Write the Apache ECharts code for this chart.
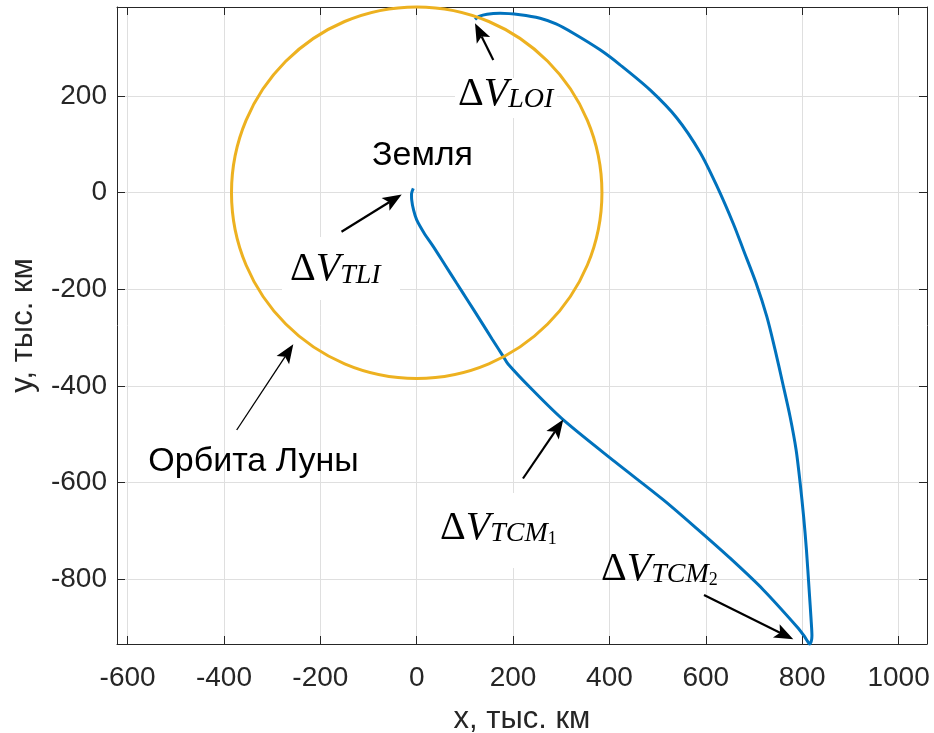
<!DOCTYPE html>
<html><head><meta charset="utf-8">
<script src="https://cdn.jsdelivr.net/npm/echarts@6/dist/echarts.min.js"></script>
<style>html,body{margin:0;padding:0;background:#fff}#c{width:934px;height:733px}</style>
</head><body><div id="c"></div>
<script>
// ---- data (thousand km) ----
const xTicks = [-600, -400, -200, 0, 200, 400, 600, 800, 1000];
const yTicks = [-800, -600, -400, -200, 0, 200];
const xRange = [-622, 1059];
const yRange = [-934, 384.2];
// transfer trajectory, from Earth (TLI) to lunar orbit insertion (LOI)
const trajX = [-7.1, -10.8, -10.4, -6.6, 0.0, 15.2, 34.5, 58.8, 83.0, 106.5, 131.4, 156.3, 179.8, 189.5,
  240.0, 304.3, 411.7, 511.9, 581.9, 650.4, 719.5, 789.5, 804.0, 811.3, 815.4, 818.5, 820.2, 818.5, 814.4,
  808.8, 803.0, 795.7, 787.4, 775.0, 759.4, 743.8, 726.6, 704.4, 678.0, 657.3, 622.8, 587.6, 539.8, 484.2,
  422.0, 380.5, 325.1, 289.2, 256.0, 214.5, 173.0, 145.9, 129.3, 121.0];
const trajY = [9.1, -2.7, -15.1, -35.8, -56.5, -83.4, -111.7, -149.6, -187.5, -224.1, -263.2, -302.7, -339.3, -354.6,
  -408.0, -470.3, -557.2, -635.8, -695.8, -756.5, -822.1, -898.6, -917.3, -928.6, -933.8, -929.7, -917.2, -884.2, -822.1,
  -739.3, -671.0, -600.7, -532.4, -464.1, -393.8, -325.5, -256.6, -187.5, -118.6, -64.8, 13.9, 84.2, 154.6, 212.6,
  264.5, 295.5, 329.8, 349.1, 360.9, 368.1, 371.2, 369.3, 364.6, 358.4];
// Moon orbit: centre x, centre y, radius
const moonOrbit = [[0, 0, 384.4]];

const chart = echarts.init(document.getElementById('c'), null, {renderer: 'canvas'});
const AX = '#262626';
const sans = 'Liberation Sans';
const serif = 'Liberation Serif';

function arrow(tail, tip, lw, L, W) {
  const dx = tip[0] - tail[0], dy = tip[1] - tail[1];
  const len = Math.hypot(dx, dy);
  const ux = dx / len, uy = dy / len, nx = -uy, ny = ux;
  const bx = tip[0] - ux * L, by = tip[1] - uy * L;
  const notch = [tip[0] - ux * L * 0.78, tip[1] - uy * L * 0.78];
  return [
    {type: 'line', z: 100, shape: {x1: tail[0], y1: tail[1], x2: notch[0], y2: notch[1]}, style: {stroke: '#000', lineWidth: lw}},
    {type: 'polygon', z: 100, shape: {points: [tip, [bx + nx * W / 2, by + ny * W / 2], notch, [bx - nx * W / 2, by - ny * W / 2]]}, style: {fill: '#000'}}
  ];
}
const rich = {
  d: {fontFamily: serif, fontSize: 40, lineHeight: 40, verticalAlign: 'bottom', fill: '#000'},
  v: {fontFamily: serif, fontStyle: 'italic', fontSize: 40, lineHeight: 40, verticalAlign: 'bottom', fill: '#000'},
  s: {fontFamily: serif, fontStyle: 'italic', fontSize: 28, lineHeight: 20, verticalAlign: 'bottom', fill: '#000'},
  n: {fontFamily: serif, fontSize: 18, lineHeight: 14, verticalAlign: 'bottom', fill: '#000'}
};
function dv(x, y, txt) {
  return {type: 'text', z: 110, x: x, y: y, style: {text: txt, rich: rich, align: 'left', verticalAlign: 'top'}};
}
function box(x1, y1, x2, y2) {
  return {type: 'rect', z: 90, shape: {x: x1, y: y1, width: x2 - x1, height: y2 - y1}, style: {fill: '#fff'}};
}

const graphics = [
  box(455, 78, 557, 118),
  box(282, 237, 400, 300),
  box(430, 493, 580, 568),
  dv(458, 74, '{d|Δ}{v|V}{s|LOI}'),
  dv(290, 249.5, '{d|Δ}{v|V}{s|TLI}'),
  dv(440, 508, '{d|Δ}{v|V}{s|TCM}{n|1}'),
  dv(601, 549, '{d|Δ}{v|V}{s|TCM}{n|2}'),
  {type: 'text', z: 110, x: 422.5, y: 156, style: {text: 'Земля', fontFamily: sans, fontSize: 34, fill: '#000', align: 'center', verticalAlign: 'middle'}},
  {type: 'text', z: 110, x: 253.5, y: 462, style: {text: 'Орбита Луны', fontFamily: sans, fontSize: 34, fill: '#000', align: 'center', verticalAlign: 'middle'}},
  ...arrow([493.3, 60], [475, 23.3], 2.2, 19, 15),
  ...arrow([341.5, 231.7], [401.7, 194.5], 2.2, 19, 15),
  ...arrow([236.7, 430], [293.3, 344.3], 1.3, 19, 15),
  ...arrow([523, 478.5], [563.3, 419.5], 2.2, 19, 15),
  ...arrow([704, 595], [793.3, 639.3], 2.2, 19, 15)
];

const fmt = v => String(v);
const option = {
  backgroundColor: '#fff',
  animation: false,
  grid: {left: 117, right: 7, top: 7, bottom: 89, containLabel: false, outerBoundsMode: 'none'},
  xAxis: [{
    type: 'value', min: xRange[0], max: xRange[1], position: 'bottom',
    name: 'x, тыс. км', nameLocation: 'middle', nameGap: 60,
    nameTextStyle: {fontFamily: sans, fontSize: 31, color: AX},
    axisLine: {show: true, onZero: false, lineStyle: {color: AX, width: 1}},
    axisTick: {show: true, inside: true, length: 8, customValues: xTicks, lineStyle: {color: AX}},
    axisLabel: {customValues: xTicks, formatter: fmt, fontFamily: sans, fontSize: 28, color: AX, margin: 20},
    splitLine: {show: true, lineStyle: {color: '#dfdfdf', width: 1}}
  }, {
    type: 'value', min: xRange[0], max: xRange[1], position: 'top',
    axisLine: {show: true, onZero: false, lineStyle: {color: AX, width: 1}},
    axisTick: {show: true, inside: true, length: 8, customValues: xTicks, lineStyle: {color: AX}},
    axisLabel: {show: false},
    splitLine: {show: false}
  }],
  yAxis: [{
    type: 'value', min: yRange[0], max: yRange[1], position: 'left',
    name: 'y, тыс. км', nameLocation: 'middle', nameGap: 78,
    nameTextStyle: {fontFamily: sans, fontSize: 31, color: AX},
    axisLine: {show: true, onZero: false, lineStyle: {color: AX, width: 1}},
    axisTick: {show: true, inside: true, length: 8, customValues: yTicks, lineStyle: {color: AX}},
    axisLabel: {customValues: yTicks, formatter: fmt, fontFamily: sans, fontSize: 28, color: AX, margin: 10},
    splitLine: {show: true, lineStyle: {color: '#dfdfdf', width: 1}}
  }, {
    type: 'value', min: yRange[0], max: yRange[1], position: 'right',
    axisLine: {show: true, onZero: false, lineStyle: {color: AX, width: 1}},
    axisTick: {show: true, inside: true, length: 8, customValues: yTicks, lineStyle: {color: AX}},
    axisLabel: {show: false},
    splitLine: {show: false}
  }],
  series: [{
    type: 'line', name: 'trajectory', xAxisIndex: 0, yAxisIndex: 0,
    data: trajX.map((x, i) => [x, trajY[i]]),
    showSymbol: false, smooth: 0.3, clip: false, z: 2,
    lineStyle: {color: '#0072BD', width: 3}
  }, {
    type: 'custom', name: 'moon', xAxisIndex: 0, yAxisIndex: 0,
    data: moonOrbit, clip: false, z: 3, silent: true,
    renderItem: function (params, api) {
      const c = api.coord([api.value(0), api.value(1)]);
      const s = api.size([api.value(2), api.value(2)]);
      return {type: 'ellipse', shape: {cx: c[0], cy: c[1], rx: s[0], ry: s[1]},
        style: {fill: 'none', stroke: '#EDB120', lineWidth: 3}};
    }
  }],
  graphic: graphics
};
chart.setOption(option);
</script>
</body></html>
